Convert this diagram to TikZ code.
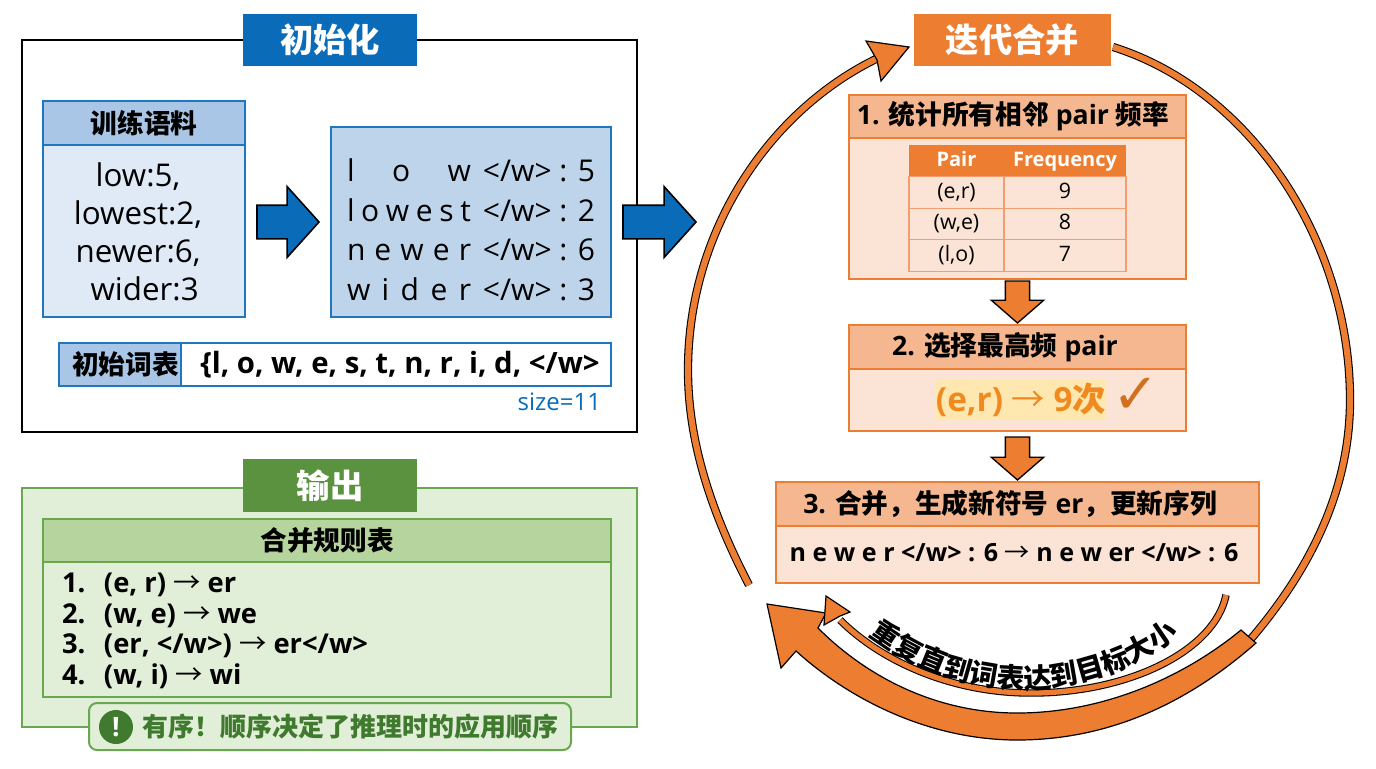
\documentclass[tikz,border=0pt]{standalone}
\usepackage{fontspec}
\setmainfont{Open Sans}
\newfontfamily\cjk{Noto Sans CJK SC}
\newfontfamily\symb{DejaVu Sans}
\usepackage{xcolor}
\usetikzlibrary{arrows.meta, positioning, calc, shapes.arrows, decorations.text}
\definecolor{tabblue}{HTML}{0A6CB8}
\definecolor{lineblue}{HTML}{1F78BF}
\definecolor{headblue}{HTML}{A9C6E6}
\definecolor{bodyblue}{HTML}{DFEAF6}
\definecolor{seqblue}{HTML}{BDD4EB}
\definecolor{tabgreen}{HTML}{5A923F}
\definecolor{linegreen}{HTML}{6AA84F}
\definecolor{bodygreen}{HTML}{E2EFD8}
\definecolor{headgreen}{HTML}{B6D49E}
\definecolor{darkgreen}{HTML}{3F7A2F}
\definecolor{lineorange}{HTML}{ED7D31}
\definecolor{headorange}{HTML}{F5B78F}
\definecolor{bodyorange}{HTML}{FBE4D5}
\definecolor{cellline}{HTML}{F0A070}
\definecolor{hilite}{HTML}{FFE8B0}
\definecolor{hitext}{HTML}{F08A20}
\definecolor{checkcol}{HTML}{D07020}
\newcommand{\zh}[1]{{\cjk #1}}
\newcommand{\fsz}[2]{\fontsize{#1pt}{#2pt}\selectfont}
\newcommand{\tosym}{{\mdseries\cjk →}}
% stretched symbol sequence, then its end mark and count
\newcommand{\seqrow}[2]{\makebox[93pt][s]{#1}\hspace{9pt}</w> : #2}

\begin{document}
\begin{tikzpicture}[x=0.75pt, y=-0.75pt, inner sep=0pt, outer sep=0pt,
   tabhead/.style={font=\fsz{25}{30}\bfseries\cjk, text=white, minimum width=130.5pt, minimum height=39pt},
   boxhead/.style={draw, line width=1.5pt, font=\fsz{20}{24}\bfseries\cjk, minimum height=32.25pt},
   bluebox/.style={draw=lineblue, line width=1.5pt, minimum width=151.5pt},
   greenbox/.style={draw=linegreen, line width=1.5pt, minimum width=426pt},
   stepbox/.style={draw=lineorange, line width=1.5pt, fill=bodyorange, minimum width=252.75pt},
   stephead/.style={boxhead, draw=lineorange, fill=headorange, minimum width=252.75pt},
   cellbox/.style={draw=cellline, line width=0.8pt, minimum height=23.6pt, text height=12pt, text depth=3.5pt, font=\fsz{16}{18}},
   seqline/.style={anchor=west, font=\fsz{22.5}{27}},
   bluearrow/.style={single arrow, draw=black, line width=1.2pt, fill=tabblue, single arrow tip angle=96,
       inner xsep=0pt, inner ysep=12pt, single arrow head extend=13.9pt, minimum width=51.75pt, anchor=tail},
   downarrow/.style={single arrow, draw=black, line width=1pt, fill=lineorange, single arrow tip angle=98,
       inner xsep=8.6pt, inner ysep=0pt, single arrow head extend=10.5pt, minimum width=38.25pt, shape border rotate=270, anchor=tail},
   loopline/.style={draw=black, line width=0.8pt, double=lineorange, double distance=4.6pt},
   loophead/.style={draw=black, line width=0.9pt, fill=lineorange, line join=miter}]
  \useasboundingbox (0,0) rectangle (1376,768);

  % init frame
  \node[draw=black, line width=1.2pt, fill=white, minimum width=461.25pt, minimum height=294pt] (initframe) at (329.5,236) {};
  \node[tabhead, fill=tabblue] (inittab) at (330,40) {初始化};
  % corpus
  \node[boxhead, bluebox, fill=headblue, minimum height=33pt] (corpushead) at (144,123) {训练语料};
  \node[bluebox, fill=bodyblue, minimum height=129pt] (corpusbody) at (144,231) {};
  \node[align=center, font=\fsz{23.5}{28.5}] (corpustext) at (138,232) {low:5,\\lowest:2,\\newer:6,\\\hspace{10pt}wider:3};
  \node[bluearrow, minimum height=46.5pt] (arrowa) at (257,222) {};
  % split words
  \node[draw=lineblue, line width=1.5pt, fill=seqblue, minimum width=210pt, minimum height=142.5pt] (seqbox) at (471,222) {};
  \node[seqline] (seqa) at (347,170) {\seqrow{l\hfill o\hfill w}{5}};
  \node[seqline] (seqb) at (347,210) {\seqrow{l\hfill o\hfill w\hfill e\hfill s\hfill t}{2}};
  \node[seqline] (seqc) at (347,250) {\seqrow{n\hfill e\hfill w\hfill e\hfill r}{6}};
  \node[seqline] (seqd) at (347,289) {\seqrow{w\hfill i\hfill d\hfill e\hfill r}{3}};
  \node[bluearrow, minimum height=54.75pt] (arrowb) at (623,222) {};
  % vocabulary
  \node[boxhead, draw=lineblue, fill=headblue, minimum width=91.5pt] (vocablabel) at (120,364.5) {\hspace*{8pt}初始词表};
  \node[draw=lineblue, line width=1.5pt, fill=white, minimum width=322.5pt, minimum height=32.25pt] (vocabbox) at (396,364.5) {};
  \node[font=\fsz{22}{24}\bfseries] (vocabtext) at (400,364.5) {\{l, o, w, e, s, t, n, r, i, d, </w>};
  \node[anchor=east, text=tabblue, font=\fsz{18}{20}] (vocabsize) at (601,402) {size=11};

  % output frame
  \node[draw=linegreen, line width=1.5pt, fill=bodygreen, minimum width=461.25pt, minimum height=179.25pt] (outframe) at (329.5,607.5) {};
  \node[tabhead, fill=tabgreen, minimum height=39.75pt] (outtab) at (330,485.5) {输出};
  \node[boxhead, greenbox, fill=headgreen] (rulehead) at (327,540.5) {合并规则表};
  \node[greenbox, fill=bodygreen, minimum height=101.25pt] (rulebody) at (327,629.5) {};
  \node[anchor=west, align=left, font=\fsz{20.5}{23}\bfseries] (ruletext) at (62,631) {%
     \makebox[31.5pt][l]{1.}(e, r) \tosym{} er\\
     \makebox[31.5pt][l]{2.}(w, e) \tosym{} we\\
     \makebox[31.5pt][l]{3.}(er, </w>) \tosym{} er</w>\\
     \makebox[31.5pt][l]{4.}(w, i) \tosym{} wi};
  \node[draw=linegreen, line width=1.5pt, fill=bodygreen, rounded corners=6pt, minimum width=361.5pt, minimum height=35.25pt] (note) at (330,726.5) {};
  \node[circle, fill=darkgreen, minimum size=25.5pt, text=white, font=\fsz{20}{24}\bfseries] (noteicon) at (116,727) {!};
  \node[text=darkgreen, font=\fsz{19.5}{24}\bfseries\cjk] (notetext) at (350,727) {有序！顺序决定了推理时的应用顺序};

  % big loop
  \coordinate (loopls) at (749,585);
  \coordinate (looplm) at (688,370);
  \coordinate (loople) at (878,58);
  \coordinate (looprs) at (1113,47);
  \coordinate (looprm) at (1350,400);
  \coordinate (loopre) at (1250,640);
  \draw[loopline] (loopls) .. controls (710,510) and (688,440) .. (looplm)
     .. controls (688,230) and (770,110) .. (loople);
  \draw[loopline] (looprs) .. controls (1250,90) and (1350,240) .. (looprm)
     .. controls (1350,490) and (1310,570) .. (loopre);
  \draw[loophead] (866,41) -- (909,47) -- (881,81) -- (877,60) -- cycle;
  % thick return
  \draw[loophead] (1256,643) .. controls (1180,710) and (1100,740) .. (1017,740)
     .. controls (930,740) and (850,700) .. (796,651)
     -- (781,668) -- (767,604) -- (826,613) -- (818,628)
     .. controls (870,680) and (940,713) .. (1017,713)
     .. controls (1100,713) and (1180,680) .. (1241,630) -- cycle;

  % inner repeat arrow
  \coordinate (repeatb) at (1226,595);
  \coordinate (repeatm) at (1031,693);
  \coordinate (repeate) at (840,620);
  \draw[loopline, double distance=4pt] (repeatb) .. controls (1215,650) and (1130,693) .. (repeatm)
     .. controls (950,693) and (880,660) .. (repeate);
  \draw[loophead] (826,596) -- (850,612) -- (840,616) -- (824,625) -- cycle;
  \coordinate (repl) at (856,627);
  \coordinate (repr) at (1192,627);
  \path[decorate, decoration={text along path, text align=center, raise=1pt,
     text={|\fsz{21}{24}\bfseries\cjk|重复直到词表达到目标大小}}]
     (repl) .. controls (956,711) and (1092,711) .. (repr);

  % steps
  \node[tabhead, fill=lineorange, minimum width=147.75pt] (looptab) at (1012.5,40) {迭代合并};
  \node[stepbox, minimum height=105.75pt] (stepabody) at (1017.5,208.5) {};
  \node[stephead] (stepahead) at (1017.5,116.5) {};
  \node[font=\fsz{20}{24}\bfseries] (stepatitle) at (1013,116.5) {1. \zh{统计所有相邻} pair \zh{频率}};
  % pair table
  \node[fill=lineorange, text=white, minimum width=71.25pt, minimum height=23.6pt, text height=12pt, text depth=3.5pt, font=\fsz{15}{18}\bfseries] (pairhead) at (956.5,161) {Pair};
  \node[fill=lineorange, text=white, minimum width=91.5pt, minimum height=23.6pt, text height=12pt, text depth=3.5pt, font=\fsz{15}{18}\bfseries] (freqhead) at (1065,161) {Frequency};
  \node[cellbox, minimum width=71.25pt] (paira) at (956.5,192.5) {(e,r)};
  \node[cellbox, minimum width=91.5pt] (freqa) at (1065,192.5) {9};
  \node[cellbox, minimum width=71.25pt] (pairb) at (956.5,224) {(w,e)};
  \node[cellbox, minimum width=91.5pt] (freqb) at (1065,224) {8};
  \node[cellbox, minimum width=71.25pt] (pairc) at (956.5,255.5) {(l,o)};
  \node[cellbox, minimum width=91.5pt] (freqc) at (1065,255.5) {7};
  \node[downarrow, minimum height=31.5pt] (arrowc) at (1017.5,281) {};

  \node[stepbox, minimum height=46.5pt] (stepbbody) at (1017.5,400) {};
  \node[stephead, minimum height=33pt] (stepbhead) at (1017.5,347) {};
  \node[font=\fsz{20}{24}\bfseries] (stepbtitle) at (1005,347) {2. \zh{选择最高频} pair};
  \node[fill=hilite, minimum width=126pt, minimum height=30pt, text=hitext, font=\fsz{25}{27}\bfseries] (stepbtext) at (1021,400) {(e,r) \tosym{} 9\zh{次}};
  \node[text=checkcol, font=\fsz{42}{44}\symb] (stepbcheck) at (1136,396) {✓};
  \node[downarrow, minimum height=32.25pt] (arrowd) at (1017.5,437) {};

  \node[stepbox, minimum width=362.25pt, minimum height=42.75pt] (stepcbody) at (1017.5,554.5) {};
  \node[stephead, minimum width=362.25pt, minimum height=33pt] (stepchead) at (1017.5,504) {};
  \node[font=\fsz{20}{24}\bfseries] (stepctitle) at (1010,504) {3. \zh{合并，生成新符号} er\zh{，更新序列}};
  \node[font=\fsz{18.8}{20}\bfseries] (stepctext) at (1014,553) {n e w e r </w> : 6 \tosym{} n e w er </w> : 6};
\end{tikzpicture}
\end{document}
